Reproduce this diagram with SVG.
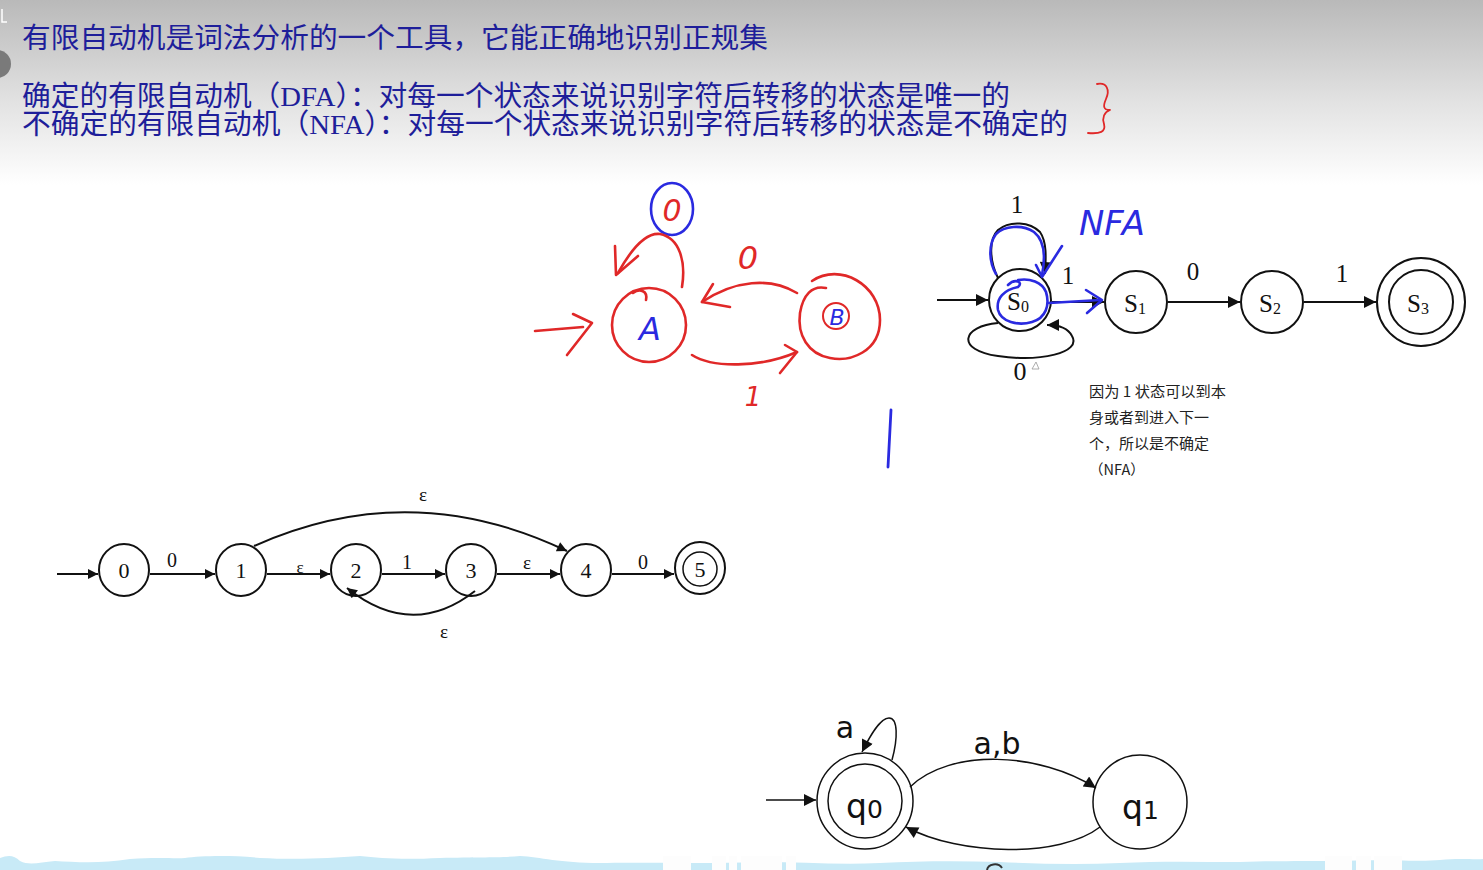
<svg xmlns="http://www.w3.org/2000/svg" width="1483" height="870" viewBox="0 0 1483 870">
<defs>
<linearGradient id="hdr" x1="0" y1="0" x2="0" y2="1">
<stop offset="0" stop-color="#b9b9b9"/>
<stop offset="0.55" stop-color="#e2e2e2"/>
<stop offset="1" stop-color="#ffffff"/>
</linearGradient>
<marker id="arr" viewBox="0 0 10 10" refX="10" refY="5" markerWidth="12" markerHeight="10" markerUnits="userSpaceOnUse" orient="auto">
<path d="M0,0 L10,5 L0,10 z" fill="#111"/>
</marker>
<marker id="arrL" viewBox="0 0 10 10" refX="10" refY="5" markerWidth="14" markerHeight="12" markerUnits="userSpaceOnUse" orient="auto">
<path d="M0,0 L10,5 L0,10 z" fill="#111"/>
</marker>
</defs>
<style>
.hd{font-family:"Liberation Serif","Noto Sans CJK SC",serif;font-size:28px;fill:#1e1e9a}
.note{font-family:"Noto Sans CJK SC","Liberation Sans",sans-serif;font-size:14.5px;fill:#222}
.ser{font-family:"Liberation Serif","DejaVu Serif",serif;fill:#111}
.sans{font-family:"DejaVu Sans","Liberation Sans",sans-serif;fill:#111}
.st{fill:none;stroke:#111;stroke-width:2}
.stt{fill:none;stroke:#111;stroke-width:1.5}
.red{fill:none;stroke:#e02828;stroke-width:2.6;stroke-linecap:round;stroke-linejoin:round}
.blue{fill:none;stroke:#2a2ae0;stroke-width:2.6;stroke-linecap:round;stroke-linejoin:round}
.hand{font-family:"DejaVu Sans","Liberation Sans",sans-serif;font-style:italic}
</style>
<rect x="0" y="0" width="1483" height="870" fill="#ffffff"/>
<rect x="0" y="0" width="1483" height="185" fill="url(#hdr)"/>
<circle cx="-3" cy="64" r="14" fill="#7a7a7a"/>
<path d="M2,9 L2,22 L7,22" fill="none" stroke="#ffffff" stroke-width="1.5"/>

<!-- header text -->
<g id="header">
<text class="hd" x="22" y="48" textLength="746" lengthAdjust="spacingAndGlyphs">有限自动机是词法分析的一个工具，它能正确地识别正规集</text>
<text class="hd" x="22" y="106" textLength="988" lengthAdjust="spacingAndGlyphs">确定的有限自动机（DFA）：对每一个状态来说识别字符后转移的状态是唯一的</text>
<text class="hd" x="22" y="134" textLength="1046" lengthAdjust="spacingAndGlyphs">不确定的有限自动机（NFA）：对每一个状态来说识别字符后转移的状态是不确定的</text>
<path class="red" style="stroke-width:1.8" d="M1097,84 C1107,82 1110,90 1106,99 C1103,106 1103,110 1110,110 C1104,112 1102,118 1104,124 C1106,132 1100,134 1088,133"/>
</g>

<!-- hand-drawn DFA -->
<g id="hand-dfa">
<g id="hA">
<ellipse class="red" cx="649" cy="325" rx="37" ry="37"/>
<path class="red" d="M633,293 C640,288 648,291 646,300"/>
<text class="hand" x="650" y="340" font-size="32" fill="#2a2ae0" text-anchor="middle">A</text>
</g>
<g id="hB">
<path class="red" d="M812,281 C840,262 880,285 880,320 C880,352 850,362 830,358 C808,354 797,335 800,313 C803,295 812,285 826,288"/>
<circle class="red" style="stroke-width:2" cx="836" cy="316" r="13"/>
<text class="hand" x="837" y="325" font-size="22" fill="#2a2ae0" text-anchor="middle">B</text>
</g>
<g id="hloop-label">
<ellipse class="blue" cx="672" cy="209" rx="21" ry="26"/>
<text class="hand" x="672" y="221" font-size="30" fill="#e02828" text-anchor="middle">0</text>
</g>
<text class="hand" x="748" y="269" font-size="32" fill="#e02828" text-anchor="middle">0</text>
<text class="hand" x="753" y="406" font-size="26" fill="#e02828" text-anchor="middle">1</text>
<g id="hconn">
<path class="red" d="M535,331 L583,327"/>
<path class="red" d="M573,314 L592,323 L567,355"/>
<path class="red" d="M682,287 C686,262 680,238 660,234 C643,232 628,255 618,273"/>
<path class="red" d="M615,246 L616,275 L638,256"/>
<path class="red" d="M797,293 C770,277 735,280 702,302"/>
<path class="red" d="M713,284 L702,302 L730,307"/>
<path class="red" d="M692,355 C712,368 760,368 797,352"/>
<path class="red" d="M785,345 L797,352 L780,373"/>
</g>
</g>
<path class="blue" style="stroke-width:2.8" d="M891,410 L888,467"/>

<!-- right NFA -->
<g id="nfa-right">
<g id="S0">
<circle class="st" cx="1020" cy="300" r="31"/>
<text class="ser" x="1007" y="310" font-size="25">S<tspan font-size="16" dy="2">0</tspan></text>
</g>
<g id="S1">
<circle class="st" cx="1136" cy="302" r="31"/>
<text class="ser" x="1124" y="312" font-size="25">S<tspan font-size="16" dy="2">1</tspan></text>
</g>
<g id="S2">
<circle class="st" cx="1272" cy="302" r="31"/>
<text class="ser" x="1259" y="312" font-size="25">S<tspan font-size="16" dy="2">2</tspan></text>
</g>
<g id="S3">
<circle class="st" cx="1421" cy="302" r="44"/>
<circle class="st" cx="1421" cy="302" r="32"/>
<text class="ser" x="1407" y="312" font-size="25">S<tspan font-size="16" dy="2">3</tspan></text>
</g>
<g id="nfa-conn">
<path class="st" d="M937,300 L988,300" marker-end="url(#arrL)"/>
<path class="st" d="M998,278 C990,262 988,240 998,230 C1010,220 1030,222 1040,232 C1047,242 1046,258 1045,274" marker-end="url(#arrL)"/>
<path class="st" d="M998,323 C962,326 955,350 998,356 C1040,362 1082,353 1072,336 C1068,328 1060,325 1047,325" marker-end="url(#arrL)"/>
<path class="st" d="M1052,302 L1104,302" marker-end="url(#arrL)"/>
<path class="st" d="M1168,302 L1240,302" marker-end="url(#arrL)"/>
<path class="st" d="M1304,302 L1376,302" marker-end="url(#arrL)"/>
</g>
<text class="ser" x="1017" y="213" font-size="25" text-anchor="middle">1</text>
<text class="ser" x="1068" y="284" font-size="25" text-anchor="middle">1</text>
<text class="ser" x="1193" y="280" font-size="25" text-anchor="middle">0</text>
<text class="ser" x="1342" y="282" font-size="25" text-anchor="middle">1</text>
<text class="ser" x="1020" y="380" font-size="26" text-anchor="middle">0</text>
<path d="M1032,369 L1036,362 L1039,369 z" fill="none" stroke="#999" stroke-width="0.8"/>
<g id="nfa-ink">
<path class="blue" d="M996,274 C989,262 988,245 996,234 C1004,226 1022,224 1034,232 C1044,240 1046,255 1042,275"/>
<path class="blue" d="M1036,265 L1042,277 L1062,246"/>
<path class="blue" d="M1008,285 C1015,278 1024,282 1018,287 C1004,290 996,298 998,310 C1001,322 1018,326 1032,322 C1046,318 1050,305 1046,292 C1042,282 1030,278 1018,280"/>
<path class="blue" d="M1049,303 L1100,300"/>
<path class="blue" d="M1086,290 L1102,300 L1087,313"/>
<text class="hand" x="1079" y="235" font-size="33" fill="#2a2ae0" textLength="66" lengthAdjust="spacingAndGlyphs">NFA</text>
</g>
</g>
<g id="note">
<text class="note" x="1089" y="397" textLength="137" lengthAdjust="spacingAndGlyphs">因为 1 状态可以到本</text>
<text class="note" x="1089" y="423" textLength="120" lengthAdjust="spacingAndGlyphs">身或者到进入下一</text>
<text class="note" x="1089" y="449" textLength="120" lengthAdjust="spacingAndGlyphs">个，所以是不确定</text>
<text class="note" x="1089" y="475">（NFA）</text>
</g>

<!-- bottom-left epsilon NFA -->
<g id="enfa">
<g id="n0"><ellipse class="st" cx="124" cy="570" rx="25" ry="26"/><text class="ser" x="124" y="578" font-size="22" text-anchor="middle">0</text></g>
<g id="n1"><ellipse class="st" cx="241" cy="570" rx="25" ry="26"/><text class="ser" x="241" y="578" font-size="22" text-anchor="middle">1</text></g>
<g id="n2"><ellipse class="st" cx="356" cy="570" rx="25" ry="26"/><text class="ser" x="356" y="578" font-size="22" text-anchor="middle">2</text></g>
<g id="n3"><ellipse class="st" cx="471" cy="570" rx="25" ry="26"/><text class="ser" x="471" y="578" font-size="22" text-anchor="middle">3</text></g>
<g id="n4"><ellipse class="st" cx="586" cy="570" rx="25" ry="26"/><text class="ser" x="586" y="578" font-size="22" text-anchor="middle">4</text></g>
<g id="n5"><ellipse class="st" cx="700" cy="568" rx="25" ry="26"/><circle class="stt" cx="700" cy="569" r="17"/><text class="ser" x="700" y="577" font-size="22" text-anchor="middle">5</text></g>
<g id="enfa-conn">
<path class="st" d="M57,574 L98,574" marker-end="url(#arr)"/>
<path class="st" d="M150,574 L215,574" marker-end="url(#arr)"/>
<path class="st" d="M267,574 L330,574" marker-end="url(#arr)"/>
<path class="st" d="M382,574 L445,574" marker-end="url(#arr)"/>
<path class="st" d="M497,574 L560,574" marker-end="url(#arr)"/>
<path class="st" d="M612,574 L674,574" marker-end="url(#arr)"/>
<path class="st" d="M254,546 Q410,476 567,551" marker-end="url(#arr)"/>
<path class="st" d="M475,591 Q412,640 347,588" marker-end="url(#arr)"/>
</g>
<text class="ser" x="172" y="567" font-size="20" text-anchor="middle">0</text>
<text class="ser" x="300" y="573" font-size="17" text-anchor="middle">ε</text>
<text class="ser" x="407" y="569" font-size="20" text-anchor="middle">1</text>
<text class="ser" x="527" y="569" font-size="19" text-anchor="middle">ε</text>
<text class="ser" x="643" y="569" font-size="20" text-anchor="middle">0</text>
<text class="ser" x="423" y="501" font-size="19" text-anchor="middle">ε</text>
<text class="ser" x="444" y="638" font-size="19" text-anchor="middle">ε</text>
</g>

<!-- q0 / q1 -->
<g id="qdfa">
<g id="q0">
<circle class="stt" cx="865" cy="801" r="48"/>
<circle class="stt" cx="865" cy="801" r="37"/>
<text class="sans" x="846" y="818" font-size="33">q<tspan font-size="25">0</tspan></text>
</g>
<g id="q1">
<circle class="stt" cx="1140" cy="802" r="47"/>
<text class="sans" x="1122" y="819" font-size="33">q<tspan font-size="25">1</tspan></text>
</g>
<g id="q-conn">
<path class="stt" d="M766,800 L816,800" marker-end="url(#arrL)"/>
<path class="stt" d="M892,760 C898,738 898,718 889,718 C880,718 870,736 862,752" marker-end="url(#arrL)"/>
<path class="stt" d="M910,787 C950,748 1040,752 1096,788" marker-end="url(#arrL)"/>
<path class="stt" d="M1100,827 C1060,858 960,856 906,827" marker-end="url(#arrL)"/>
</g>
<text class="sans" x="845" y="738" font-size="30" text-anchor="middle">a</text>
<text class="sans" x="997" y="754" font-size="30" text-anchor="middle">a,b</text>
</g>

<!-- bottom band -->
<path d="M0,870 L0,858 C8,855 14,855 20,861 C30,866 40,862 55,861 C75,862 100,864 130,859 C160,857 175,859 185,858 C200,856 230,855 260,858 C300,860 330,858 360,856 C380,858 400,860 440,858 C480,857 500,858 520,856 C540,857 560,863 600,863 C640,862 700,864 760,862 C800,862 840,865 880,863 C920,861 960,861 1000,862 C1040,864 1080,865 1120,863 C1160,861 1200,862 1240,862 C1280,861 1300,861 1340,861 C1380,859 1420,862 1440,860 C1460,858 1475,860 1483,859 L1483,870 z" fill="#c8eaf7"/>
<g fill="#fdfdfd">
<rect x="663" y="856" width="28" height="14"/>
<rect x="712" y="856" width="14" height="14"/>
<rect x="729" y="856" width="8" height="14"/>
<rect x="741" y="856" width="41" height="14"/>
<rect x="786" y="856" width="10" height="14"/>
<rect x="1325" y="856" width="27" height="14"/>
<rect x="1356" y="856" width="15" height="14"/>
<rect x="1374" y="856" width="28" height="14"/>
</g>
<path d="M987,870 C988,864 998,862 1002,868" fill="none" stroke="#333" stroke-width="2"/>
</svg>
